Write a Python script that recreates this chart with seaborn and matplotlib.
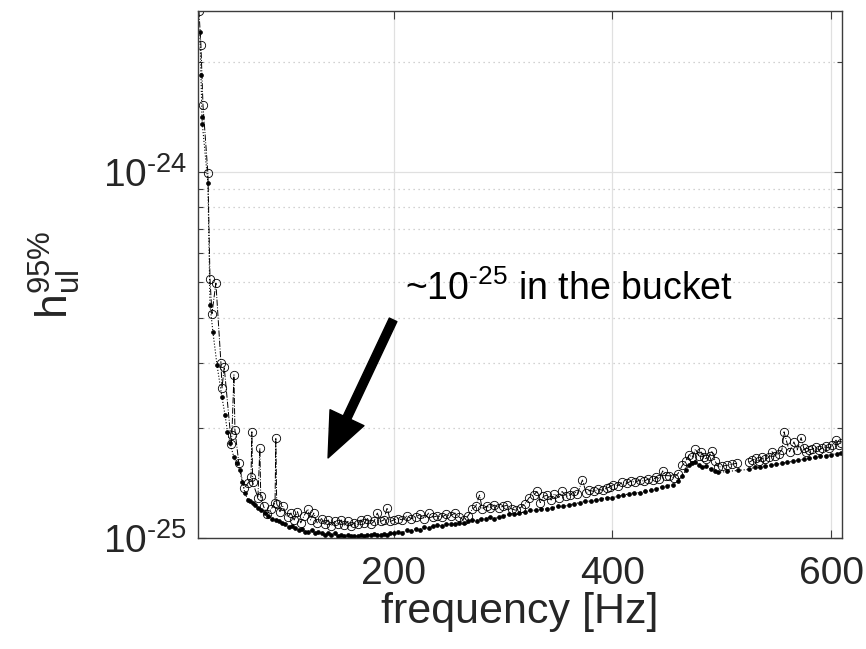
import numpy as np
import pandas as pd
import seaborn as sns
import matplotlib.pyplot as plt
from matplotlib.ticker import FixedLocator, LogLocator, NullLocator, NullFormatter, FuncFormatter

# upper limits: frequency [Hz] and h in units of 1e-25
f_open = [21.9, 23.7, 25.6, 30.1, 32.0, 33.8, 37.4, 42.0, 43.0, 45.0, 51.5, 52.0, 53.9, 54.8,
          58.4, 63.0, 66.7, 69.5, 70.3, 71.0, 75.8, 77.6, 78.4, 81.0, 84.0, 88.0, 91.5, 92.2,
          93.0, 96.0, 98.6, 103.0, 106, 109, 112, 115, 118, 121.5, 124, 127, 130, 134, 137, 140,
          143, 146, 149, 152, 155, 158, 161, 164, 167, 170, 173, 176, 179, 182, 185, 188, 191,
          194, 197, 200, 204, 208, 212, 216, 220, 224, 228, 232, 236, 240, 244, 248, 252, 256,
          260, 264, 268, 272, 275, 278.5, 281, 285, 288, 292, 296, 300, 304, 308, 312, 316, 320,
          324, 328, 331, 334, 337, 340.6, 344, 347, 351, 354, 358, 361, 365, 368, 372.6, 376,
          379, 383, 387, 391, 395, 398, 401, 405, 409, 413, 417, 421, 425, 429, 433, 437, 440,
          443, 446, 449, 452, 456, 460, 464, 467, 470.3, 473, 476, 479, 481, 484, 486, 489, 491,
          494, 497, 500, 505, 509, 514,
          525, 528, 531, 534, 537, 540, 543, 546, 549, 552, 555, 557, 559, 562, 566, 569, 572.6,
          575, 577, 580, 583, 586, 589, 592, 595, 598, 601, 604.5, 607, 609]
h_open = [27.5, 22.2, 15.2, 9.9, 5.1, 4.1, 4.97, 3.01, 2.57, 2.93, 1.81, 1.91, 2.79, 1.97,
          1.60, 1.37, 1.41, 1.47, 1.95, 1.42, 1.29, 1.76, 1.30, 1.22, 1.16, 1.20, 1.25, 1.88,
          1.24, 1.18, 1.22, 1.14, 1.17, 1.12, 1.18, 1.10, 1.15, 1.20, 1.12, 1.17, 1.10, 1.13, 1.09, 1.12,
          1.08, 1.11, 1.09, 1.12, 1.085, 1.11, 1.08, 1.10, 1.09, 1.12, 1.10, 1.13, 1.09, 1.11, 1.17, 1.11, 1.12,
          1.21, 1.11, 1.12, 1.13, 1.12, 1.15, 1.13, 1.14, 1.16, 1.13, 1.17, 1.14, 1.15, 1.14, 1.16, 1.15, 1.17,
          1.14, 1.12, 1.15, 1.20, 1.22, 1.31, 1.20, 1.22, 1.21, 1.23, 1.21, 1.22, 1.23, 1.20, 1.19, 1.21, 1.24,
          1.29, 1.31, 1.34, 1.25, 1.30, 1.31, 1.27, 1.32, 1.29, 1.34, 1.30, 1.31, 1.34, 1.32, 1.44, 1.33,
          1.35, 1.34, 1.36, 1.35, 1.37, 1.38, 1.40, 1.39, 1.42, 1.41, 1.43, 1.42, 1.44, 1.43, 1.45, 1.44, 1.47,
          1.45, 1.525, 1.48, 1.48, 1.46, 1.50, 1.58, 1.62, 1.69, 1.66, 1.75, 1.68, 1.72, 1.66, 1.64, 1.68, 1.73,
          1.62, 1.56, 1.57, 1.58, 1.59, 1.60,
          1.61, 1.63, 1.65, 1.62, 1.66, 1.64, 1.66, 1.72, 1.68, 1.70, 1.74, 1.95, 1.85, 1.72, 1.83, 1.74, 1.88,
          1.76, 1.72, 1.74, 1.75, 1.77, 1.74, 1.76, 1.78, 1.76, 1.79, 1.85, 1.80, 1.82]
# the open series has no data between ~514 and ~525 Hz
gap_after = 514

# lower curve (filled dots), same units
f_dot = [22.8, 23.7, 24.7, 25.0, 30.1, 32.0, 34.7, 38.4, 42.9, 45.7, 48, 50.2, 53.9, 56.5, 59.4,
         61.5, 63.9, 66.7, 68.5, 71.2, 73.5, 75.8, 79, 82.2, 85.5, 88.6, 92, 95, 97.7, 101, 104,
         107, 109.6, 113, 116, 119, 121.5, 125, 128, 131, 134, 137, 140, 143, 146, 149, 152, 155,
         158, 161, 164, 167, 170, 173, 176, 179, 182, 185, 188, 191, 194, 197, 200, 204, 208, 212,
         216, 220, 224, 228, 232, 236, 240, 244, 248, 252, 256, 260, 264, 268, 272, 276, 280, 284,
         288, 292, 296, 300, 305, 310, 315, 320, 325, 330, 335, 340, 345, 350, 355, 360, 365, 370,
         375, 380, 385, 390, 395, 400, 405, 410, 415, 420, 425, 430, 435, 440, 445, 450, 455, 460,
         464, 467, 470, 473, 476, 479, 482, 486, 490, 494, 497, 505, 515, 525, 530, 535, 540, 545,
         550, 555, 560, 565, 570, 575, 580, 585, 590, 595, 600, 605, 609]
h_dot = [24.1, 18.4, 14.1, 13.5, 9.33, 4.33, 3.65, 2.97, 2.43, 2.17, 1.95, 1.82, 1.66, 1.60, 1.53,
         1.42, 1.33, 1.27, 1.26, 1.25, 1.23, 1.21, 1.19, 1.17, 1.15, 1.13, 1.12, 1.11, 1.10, 1.09, 1.07,
         1.08, 1.065, 1.05, 1.06, 1.04, 1.04, 1.05, 1.03, 1.04, 1.03, 1.02, 1.03, 1.02, 1.03, 1.015, 1.02, 1.01,
         1.02, 1.01, 1.015, 1.01, 1.02, 1.015, 1.02, 1.02, 1.025, 1.02, 1.02, 1.025, 1.02, 1.03, 1.03, 1.04, 1.035, 1.05,
         1.045, 1.06, 1.055, 1.07, 1.065, 1.08, 1.085, 1.08, 1.09, 1.09, 1.095, 1.10, 1.10, 1.11, 1.12, 1.115, 1.13, 1.13,
         1.14, 1.13, 1.14, 1.15, 1.16, 1.16, 1.17, 1.18, 1.19, 1.19, 1.20, 1.20, 1.21, 1.22, 1.22, 1.23, 1.24, 1.25,
         1.26, 1.26, 1.27, 1.28, 1.29, 1.29, 1.30, 1.31, 1.32, 1.33, 1.33, 1.34, 1.35, 1.36, 1.38, 1.39, 1.40, 1.43,
         1.48, 1.53, 1.58, 1.60, 1.61, 1.58, 1.56, 1.57, 1.54, 1.52, 1.51, 1.52, 1.53, 1.54, 1.56, 1.56, 1.57, 1.58,
         1.59, 1.60, 1.61, 1.62, 1.63, 1.64, 1.65, 1.66, 1.67, 1.68, 1.69, 1.70, 1.71]

unit = 1e-25
x_ticks = [200, 400, 600]
y_ticks = [1e-25, 1e-24]

sns.set_theme(style="ticks")
plt.rcParams["font.family"] = ["Liberation Sans", "DejaVu Sans"]
plt.rcParams["mathtext.fontset"] = "custom"
plt.rcParams["mathtext.rm"] = "Liberation Sans"
plt.rcParams["mathtext.it"] = "Liberation Sans:italic"
plt.rcParams["mathtext.bf"] = "Liberation Sans:bold"

df_open = pd.DataFrame({"f": f_open, "h": np.array(h_open) * unit})
df_open["seg"] = (df_open["f"] > gap_after).astype(int)
df_dot = pd.DataFrame({"f": f_dot, "h": np.array(h_dot) * unit})

fig = plt.figure(figsize=(8.66, 6.49), dpi=100)
ax = fig.add_axes([0.2286, 0.171, 0.7437, 0.812])

sns.lineplot(data=df_dot, x="f", y="h", ax=ax, estimator=None, sort=False,
             color="black", linestyle=":", linewidth=0.8,
             marker="o", markersize=2.8, markerfacecolor="black",
             markeredgecolor="black", markeredgewidth=0.5)
sns.lineplot(data=df_open, x="f", y="h", units="seg", ax=ax, estimator=None, sort=False,
             color="black", linestyle="-.", linewidth=0.7,
             marker="o", markersize=6, markerfacecolor="none",
             markeredgecolor="black", markeredgewidth=0.6)

ax.set_yscale("log")
ax.set_xlim(21, 610)
ax.set_ylim(1e-25, 2.75e-24)


def sci_label(v, pos):
    e = int(round(np.log10(v)))
    return r"10$^{\text{-}%d}$" % (-e)


ax.xaxis.set_major_locator(FixedLocator(x_ticks))
ax.xaxis.set_minor_locator(NullLocator())
ax.yaxis.set_major_locator(FixedLocator(y_ticks))
ax.yaxis.set_minor_locator(LogLocator(base=10, subs=np.arange(2, 10)))
ax.yaxis.set_major_formatter(FuncFormatter(sci_label))
ax.yaxis.set_minor_formatter(NullFormatter())

ax.grid(True, which="major", color="#e0e0e0", linewidth=0.9, linestyle="-")
ax.grid(True, which="minor", axis="y", color="#c4c4c4", linewidth=0.9, linestyle=(0, (1, 3)))
ax.set_axisbelow(True)

for s in ax.spines.values():
    s.set_visible(True)
    s.set_color("#3c3c3c")
    s.set_linewidth(1.0)

ax.tick_params(which="both", direction="in", top=True, right=True, colors="#3c3c3c",
               labelcolor="#262626", labelsize=28)
ax.tick_params(which="major", length=6, width=0.8)
ax.tick_params(which="minor", length=3.5, width=0.8)
ax.tick_params(axis="x", pad=13)
ax.tick_params(axis="y", pad=8)

ax.set_xlabel("frequency [Hz]", fontsize=31, color="#262626", labelpad=0)
ax.set_ylabel(r"$\mathregular{h_{ul}^{95\%}}$", fontsize=32, color="#262626", labelpad=14)

# annotation arrow and text
ax.annotate("", xy=(0.202, 0.152), xytext=(0.303, 0.414),
            xycoords="axes fraction", textcoords="axes fraction",
            arrowprops=dict(arrowstyle="simple,head_length=32,head_width=27,tail_width=6",
                            mutation_scale=1, color="black", shrinkA=0, shrinkB=0))
ax.text(0.321, 0.452, r"~10$^{\text{-}25}$ in the bucket", transform=ax.transAxes,
        fontsize=27, color="black", ha="left", va="baseline")

fig.savefig("out.png", dpi=100)
